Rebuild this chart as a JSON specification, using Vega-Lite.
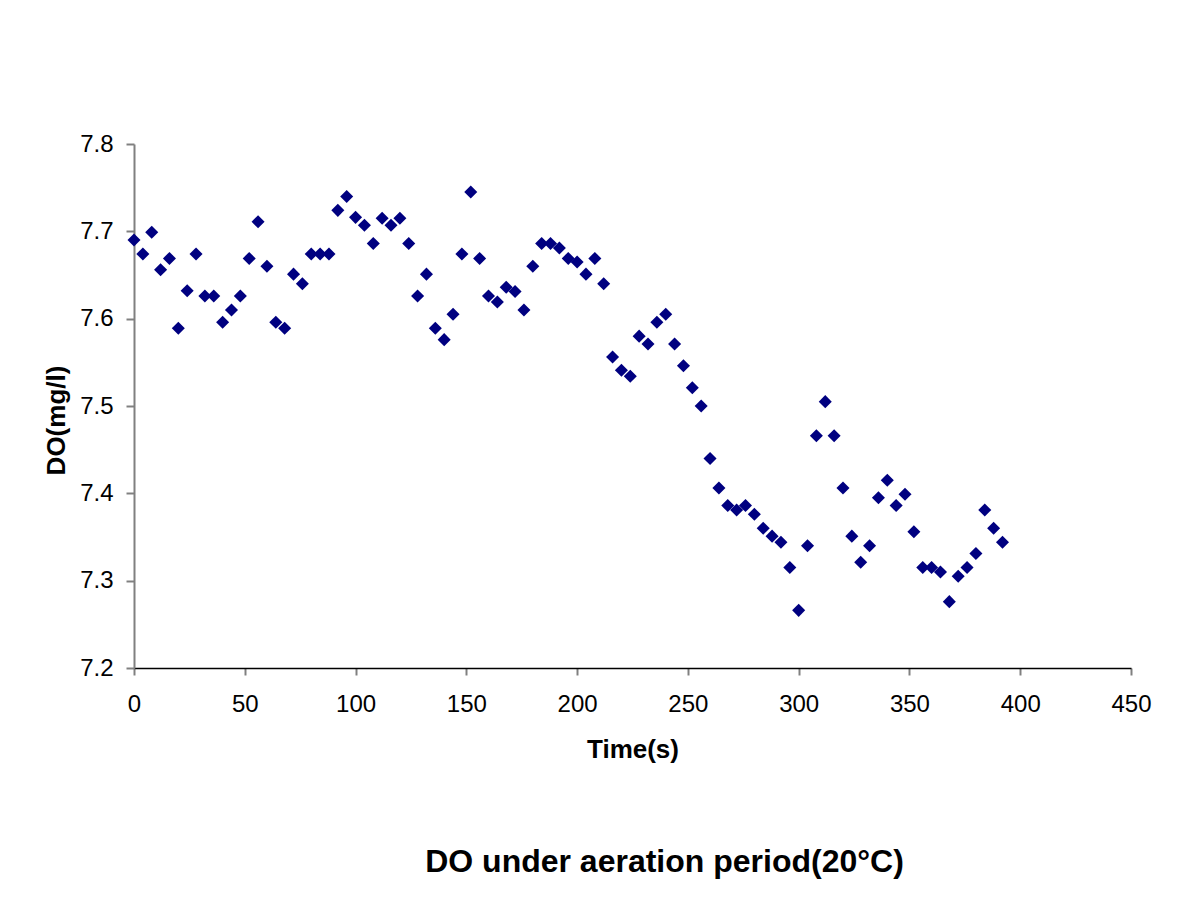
{
  "$schema": "https://vega.github.io/schema/vega-lite/v6.json",
  "autosize": "none",
  "width": 997,
  "height": 524,
  "padding": {"left": 134, "top": 144, "right": 65, "bottom": 233},
  "background": "white",
  "config": {"view": {"stroke": null}, "font": "Liberation Sans"},
  "title": {
    "text": "DO under aeration period(20°C)",
    "orient": "bottom",
    "anchor": "middle",
    "dx": 32,
    "offset": 85,
    "font": "Liberation Sans",
    "fontSize": 32,
    "fontWeight": "bold",
    "color": "#000000"
  },
  "data": {
    "values": [
      {"t": 0, "do": 7.690}, {"t": 4, "do": 7.674}, {"t": 8, "do": 7.699}, {"t": 12, "do": 7.656},
      {"t": 16, "do": 7.669}, {"t": 20, "do": 7.589}, {"t": 24, "do": 7.632}, {"t": 28, "do": 7.674},
      {"t": 32, "do": 7.626}, {"t": 36, "do": 7.626}, {"t": 40, "do": 7.596}, {"t": 44, "do": 7.610},
      {"t": 48, "do": 7.626}, {"t": 52, "do": 7.669}, {"t": 56, "do": 7.711}, {"t": 60, "do": 7.660},
      {"t": 64, "do": 7.596}, {"t": 68, "do": 7.589}, {"t": 72, "do": 7.651}, {"t": 76, "do": 7.640},
      {"t": 80, "do": 7.674}, {"t": 84, "do": 7.674}, {"t": 88, "do": 7.674}, {"t": 92, "do": 7.724},
      {"t": 96, "do": 7.740}, {"t": 100, "do": 7.716}, {"t": 104, "do": 7.707}, {"t": 108, "do": 7.686},
      {"t": 112, "do": 7.715}, {"t": 116, "do": 7.707}, {"t": 120, "do": 7.715}, {"t": 124, "do": 7.686},
      {"t": 128, "do": 7.626}, {"t": 132, "do": 7.651}, {"t": 136, "do": 7.589}, {"t": 140, "do": 7.576},
      {"t": 144, "do": 7.605}, {"t": 148, "do": 7.674}, {"t": 152, "do": 7.745}, {"t": 156, "do": 7.669},
      {"t": 160, "do": 7.626}, {"t": 164, "do": 7.619}, {"t": 168, "do": 7.636}, {"t": 172, "do": 7.631},
      {"t": 176, "do": 7.610}, {"t": 180, "do": 7.660}, {"t": 184, "do": 7.686}, {"t": 188, "do": 7.686},
      {"t": 192, "do": 7.681}, {"t": 196, "do": 7.669}, {"t": 200, "do": 7.665}, {"t": 204, "do": 7.651},
      {"t": 208, "do": 7.669}, {"t": 212, "do": 7.640}, {"t": 216, "do": 7.556}, {"t": 220, "do": 7.541},
      {"t": 224, "do": 7.534}, {"t": 228, "do": 7.580}, {"t": 232, "do": 7.571}, {"t": 236, "do": 7.596},
      {"t": 240, "do": 7.605}, {"t": 244, "do": 7.571}, {"t": 248, "do": 7.546}, {"t": 252, "do": 7.521},
      {"t": 256, "do": 7.500}, {"t": 260, "do": 7.440}, {"t": 264, "do": 7.406}, {"t": 268, "do": 7.386},
      {"t": 272, "do": 7.381}, {"t": 276, "do": 7.386}, {"t": 280, "do": 7.376}, {"t": 284, "do": 7.360},
      {"t": 288, "do": 7.351}, {"t": 292, "do": 7.344}, {"t": 296, "do": 7.315}, {"t": 300, "do": 7.266},
      {"t": 304, "do": 7.340}, {"t": 308, "do": 7.466}, {"t": 312, "do": 7.505}, {"t": 316, "do": 7.466},
      {"t": 320, "do": 7.406}, {"t": 324, "do": 7.351}, {"t": 328, "do": 7.321}, {"t": 332, "do": 7.340},
      {"t": 336, "do": 7.395}, {"t": 340, "do": 7.415}, {"t": 344, "do": 7.386}, {"t": 348, "do": 7.399},
      {"t": 352, "do": 7.356}, {"t": 356, "do": 7.315}, {"t": 360, "do": 7.315}, {"t": 364, "do": 7.310},
      {"t": 368, "do": 7.276}, {"t": 372, "do": 7.305}, {"t": 376, "do": 7.315}, {"t": 380, "do": 7.331},
      {"t": 384, "do": 7.381}, {"t": 388, "do": 7.360}, {"t": 392, "do": 7.344}
    ]
  },
  "mark": {"type": "point", "shape": "diamond", "filled": true, "size": 170, "color": "#000080", "opacity": 1},
  "encoding": {
    "x": {
      "field": "t",
      "type": "quantitative",
      "scale": {"domain": [0, 450], "nice": false, "zero": false},
      "axis": {
        "title": "Time(s)",
        "values": [0, 50, 100, 150, 200, 250, 300, 350, 400, 450],
        "grid": false,
        "labelFlush": false,
        "labelOverlap": false,
        "domainColor": "#000000",
        "domainWidth": 1.5,
        "tickColor": "#808080",
        "tickWidth": 2,
        "tickSize": 7,
        "labelPadding": 17,
        "labelFont": "Liberation Sans",
        "labelFontSize": 24,
        "labelColor": "#000000",
        "titleFont": "Liberation Sans",
        "titleFontSize": 26,
        "titleFontWeight": "bold",
        "titleColor": "#000000",
        "titlePadding": 20
      }
    },
    "y": {
      "field": "do",
      "type": "quantitative",
      "scale": {"domain": [7.2, 7.8], "nice": false, "zero": false},
      "axis": {
        "title": "DO(mg/l)",
        "values": [7.2, 7.3, 7.4, 7.5, 7.6, 7.7, 7.8],
        "format": ".1f",
        "grid": false,
        "labelFlush": false,
        "domainColor": "#808080",
        "domainWidth": 2,
        "tickColor": "#808080",
        "tickWidth": 2,
        "tickSize": 8,
        "labelPadding": 13,
        "labelFont": "Liberation Sans",
        "labelFontSize": 24,
        "labelColor": "#000000",
        "titleFont": "Liberation Sans",
        "titleFontSize": 26,
        "titleFontWeight": "bold",
        "titleColor": "#000000",
        "titlePadding": 10,
        "titleY": 276
      }
    }
  }
}
